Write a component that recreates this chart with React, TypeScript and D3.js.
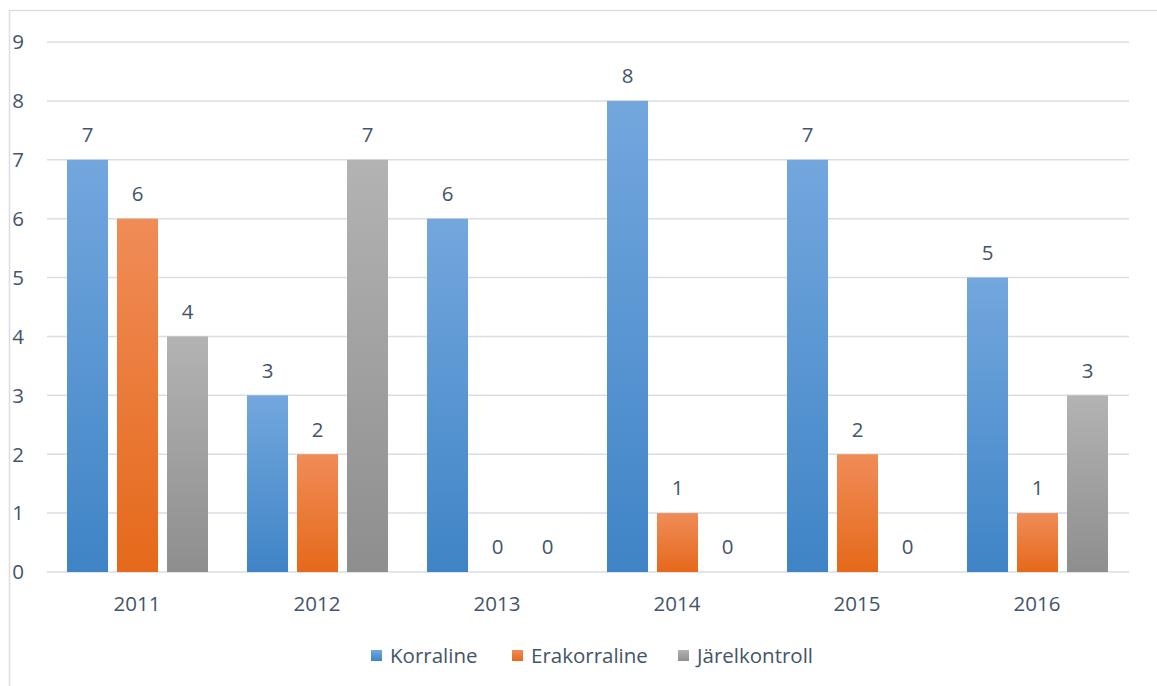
import React from "react";
import * as d3 from "d3";

const categories = ["2011", "2012", "2013", "2014", "2015", "2016"];
const seriesNames = ["Korraline", "Erakorraline", "Järelkontroll"];
const korraline = [7, 3, 6, 8, 7, 5];
const erakorraline = [6, 2, 0, 1, 2, 1];
const jarelkontroll = [4, 7, 0, 0, 0, 3];
const yTicks = [0, 1, 2, 3, 4, 5, 6, 7, 8, 9];

const seriesValues = [korraline, erakorraline, jarelkontroll];
const gradients = [
  { id: "gBlue", top: "#73a7de", bottom: "#3f84c6" },
  { id: "gOrange", top: "#f08c58", bottom: "#e5691a" },
  { id: "gGray", top: "#b3b3b3", bottom: "#8e8e8e" },
];

const W = 1157;
const H = 686;
const left = 47;
const right = 1127;
const top = 42;
const bottom = 572;
const font = "'Open Sans', sans-serif";
const fs = 20.5;
const textColor = "#44546a";

export default function App() {
  const x = d3.scaleBand<string>().domain(categories).range([left, right]).paddingInner(0).paddingOuter(0);
  const y = d3.scaleLinear().domain([0, 9]).range([bottom, top]);
  const inner = d3
    .scaleBand<string>()
    .domain(seriesNames)
    .range([20, x.bandwidth() - 19])
    .paddingInner(9 / 50);

  const legendX = [371, 512, 678];

  return (
    <svg
      width={W}
      height={H}
      style={{ position: "absolute", left: 0, top: 0, background: "#fff" }}
    >
      <defs>
        {gradients.map((g) => (
          <linearGradient key={g.id} id={g.id} x1="0" y1="0" x2="0" y2="1">
            <stop offset="0%" stopColor={g.top} />
            <stop offset="100%" stopColor={g.bottom} />
          </linearGradient>
        ))}
      </defs>
      <rect x={9.5} y={10.5} width={W + 20} height={H + 20} fill="none" stroke="#d9dee6" strokeWidth={1.5} />
      {yTicks.map((t) => (
        <g key={t}>
          <line x1={left} x2={right + 2} y1={y(t)} y2={y(t)} stroke="#d9dde4" strokeWidth={1.5} />
          <text
            x={18}
            y={y(t)}
            dy="0.36em"
            textAnchor="middle"
            fontFamily={font}
            fontSize={fs}
            fill={textColor}
          >
            {t}
          </text>
        </g>
      ))}
      {categories.map((c, ci) => (
        <g key={c} transform={`translate(${x(c)},0)`}>
          {seriesNames.map((s, si) => {
            const v = seriesValues[si][ci];
            const bx = inner(s)!;
            const bw = inner.bandwidth();
            return (
              <g key={s}>
                {v > 0 && (
                  <rect
                    x={bx}
                    y={y(v)}
                    width={bw}
                    height={y(0) - y(v)}
                    fill={`url(#${gradients[si].id})`}
                  />
                )}
                <text
                  x={bx + bw / 2}
                  y={y(v) - 25}
                  dy="0.36em"
                  textAnchor="middle"
                  fontFamily={font}
                  fontSize={fs}
                  fill={textColor}
                >
                  {v}
                </text>
              </g>
            );
          })}
          <text
            x={x.bandwidth() / 2}
            y={604}
            dy="0.36em"
            textAnchor="middle"
            fontFamily={font}
            fontSize={fs}
            fill={textColor}
          >
            {c}
          </text>
        </g>
      ))}
      {seriesNames.map((s, i) => (
        <g key={s} transform={`translate(${legendX[i]},650)`}>
          <rect x={0} y={0} width={11} height={11} fill={`url(#${gradients[i].id})`} />
          <text x={19} y={5.5} dy="0.36em" fontFamily={font} fontSize={fs} fill={textColor}>
            {s}
          </text>
        </g>
      ))}
    </svg>
  );
}
